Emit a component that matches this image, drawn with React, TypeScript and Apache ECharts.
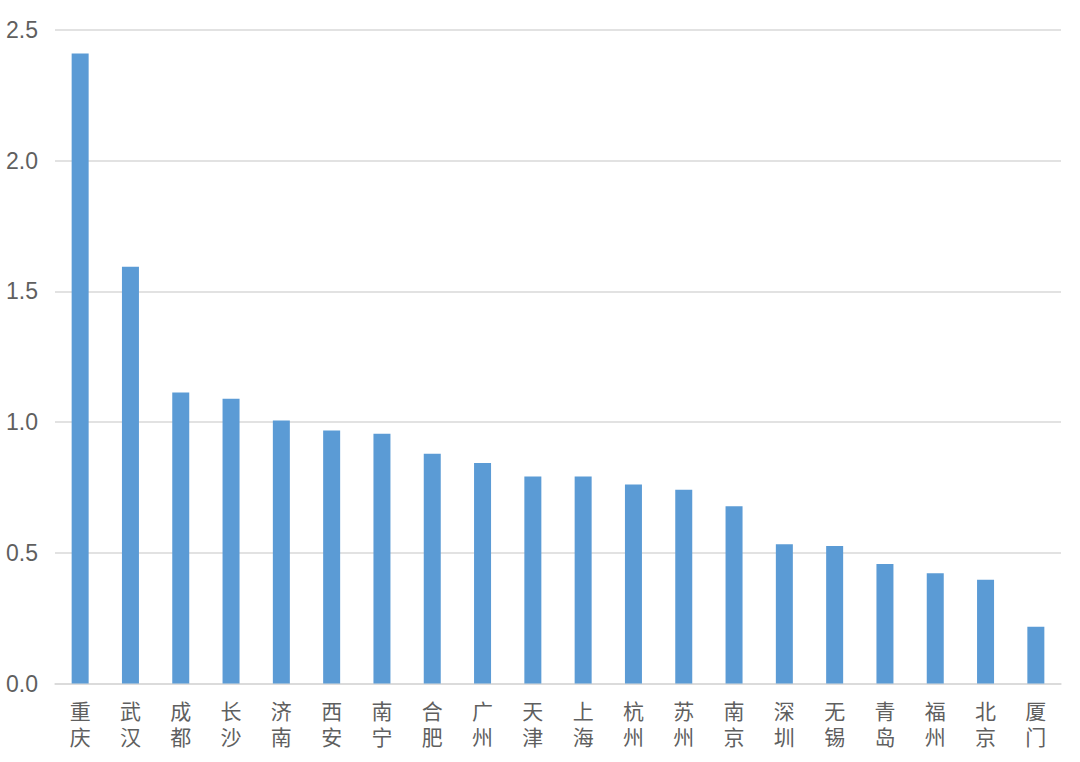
import React, { useEffect, useRef } from "react";
import * as echarts from "echarts";

const categories = ["重庆", "武汉", "成都", "长沙", "济南", "西安", "南宁", "合肥", "广州", "天津", "上海", "杭州", "苏州", "南京", "深圳", "无锡", "青岛", "福州", "北京", "厦门"];
const values = [2.41, 1.594, 1.113, 1.089, 1.006, 0.968, 0.955, 0.879, 0.844, 0.792, 0.792, 0.761, 0.741, 0.678, 0.533, 0.526, 0.457, 0.422, 0.397, 0.217];
const yTicks = { min: 0, max: 2.5, interval: 0.5 };

export default function App() {
  const ref = useRef<HTMLDivElement>(null);
  useEffect(() => {
    if (!ref.current) return;
    const chart = echarts.init(ref.current, null, { renderer: "svg" });
    chart.setOption({
      animation: false,
      backgroundColor: "#ffffff",
      grid: { left: 55, right: 19, top: 30, bottom: 78.5, containLabel: false },
      xAxis: {
        type: "category",
        data: categories,
        axisLine: { show: true, lineStyle: { color: "#d9d9d9", width: 1.5 } },
        axisTick: { show: false },
        axisLabel: {
          interval: 0,
          margin: 13,
          fontSize: 21,
          lineHeight: 26,
          color: "#5f5f5f",
          fontFamily: "Noto Sans CJK SC",
          formatter: (v: string) => v.split("").join("\n"),
        },
      },
      yAxis: {
        type: "value",
        min: yTicks.min,
        max: yTicks.max,
        interval: yTicks.interval,
        axisLine: { show: false },
        axisTick: { show: false },
        splitLine: { lineStyle: { color: "#d9d9d9", width: 1.5 } },
        axisLabel: {
          margin: 17,
          fontSize: 23,
          color: "#5f5f5f",
          fontFamily: "Liberation Sans",
          formatter: (v: number) => v.toFixed(1),
        },
      },
      series: [
        {
          type: "bar",
          data: values,
          barWidth: 17,
          itemStyle: { color: "#5b9bd5" },
        },
      ],
    });
    return () => chart.dispose();
  }, []);
  return <div ref={ref} style={{ position: "absolute", left: 0, top: 0, width: 1080, height: 762 }} />;
}
